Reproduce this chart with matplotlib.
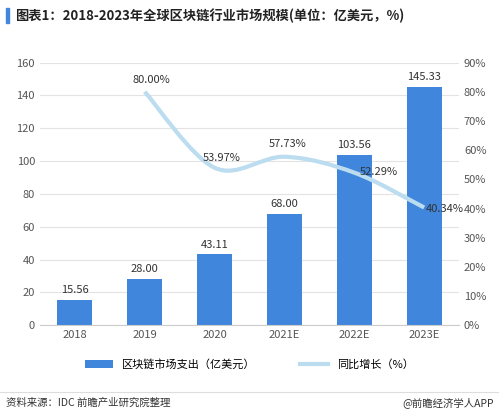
import numpy as np
import matplotlib.pyplot as plt
from matplotlib.path import Path
from matplotlib.patches import PathPatch

plt.rcParams['font.family'] = ['Noto Sans CJK SC', 'DejaVu Sans']

years = ['2018', '2019', '2020', '2021E', '2022E', '2023E']
spend = [15.56, 28.00, 43.11, 68.00, 103.56, 145.33]
growth = [None, 80.00, 53.97, 57.73, 52.29, 40.34]

fig = plt.figure(figsize=(4.99, 4.17), dpi=100)
ax = fig.add_axes([0.08, 0.22, 0.84, 0.63])
x = np.arange(len(years))
ax.bar(x, spend, width=0.5, color='#3f86dc', zorder=2, label='区块链市场支出（亿美元）')
for xi, v in zip(x, spend):
    ax.text(xi, v + 3, f'{v:.2f}', ha='center', va='bottom', fontsize=8, color='#333333')
ax.set_ylim(0, 160)
ax.set_yticks(range(0, 161, 20))
ax.set_xlim(-0.5, len(years) - 0.5)
ax.set_xticks(x, years)
ax.grid(axis='y', color='#e3e3e3', lw=0.8, zorder=0)
for s in ['top', 'right', 'left']:
    ax.spines[s].set_visible(False)
ax.spines['bottom'].set_color('#cccccc')
ax.tick_params(length=0, labelsize=8, colors='#555555')

ax2 = ax.twinx()
gx = [xi for xi, g in zip(x, growth) if g is not None]
gy = [g for g in growth if g is not None]
# smooth curve through the points (Catmull-Rom as Bezier)
px = [gx[0]] + gx + [gx[-1]]
py = [gy[0]] + gy + [gy[-1]]
verts = [(gx[0], gy[0])]
codes = [Path.MOVETO]
for i in range(1, len(px) - 2):
    c1 = (px[i] + (px[i + 1] - px[i - 1]) / 6, py[i] + (py[i + 1] - py[i - 1]) / 6)
    c2 = (px[i + 1] - (px[i + 2] - px[i]) / 6, py[i + 1] - (py[i + 2] - py[i]) / 6)
    verts += [c1, c2, (px[i + 1], py[i + 1])]
    codes += [Path.CURVE4] * 3
ax2.add_patch(PathPatch(Path(verts, codes), fc='none', ec='#bcdcf0', lw=3, zorder=3))
ax2.plot([], [], color='#bcdcf0', lw=3, label='同比增长（%）')
offs = [(0.1, 4), (0.1, 3.5), (0.05, 4.5), (0.35, 0.3), (0.3, -0.5)]
for (xi, g), (dx, dy) in zip(zip(gx, gy), offs):
    ax2.text(xi + dx, g + dy, f'{g:.2f}%', ha='center', va='center', fontsize=8, color='#333333', zorder=4)
ax2.set_ylim(0, 90)
ax2.set_yticks(range(0, 91, 10), [f'{v}%' for v in range(0, 91, 10)])
for s in ['top', 'right', 'left', 'bottom']:
    ax2.spines[s].set_visible(False)
ax2.tick_params(length=0, labelsize=8, colors='#555555')

h1, l1 = ax.get_legend_handles_labels()
h2, l2 = ax2.get_legend_handles_labels()
fig.legend(h1 + h2, l1 + l2, loc='center', bbox_to_anchor=(0.5, 0.125), ncol=2,
           frameon=False, fontsize=8, handlelength=2.5, columnspacing=4)

fig.patches.append(plt.Rectangle((0.012, 0.945), 0.006, 0.035, transform=fig.transFigure, color='#3f86dc'))
fig.text(0.03, 0.962, '图表1：2018-2023年全球区块链行业市场规模(单位：亿美元，%)',
         fontsize=9.5, fontweight='bold', va='center', color='#222222')
fig.add_artist(plt.Line2D([0, 1], [0.06, 0.06], color='#dddddd', lw=0.8))
fig.text(0.012, 0.035, '资料来源：IDC 前瞻产业研究院整理', fontsize=7.5, va='center', color='#333333')
fig.text(0.99, 0.035, '@前瞻经济学人APP', fontsize=7.5, va='center', ha='right', color='#333333')

fig.savefig('out.png', dpi=100)
